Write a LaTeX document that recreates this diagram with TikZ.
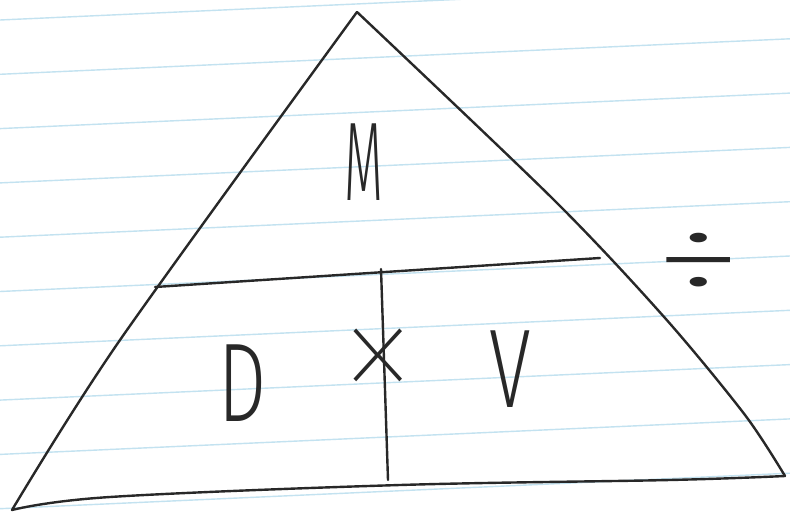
\documentclass[tikz,border=0pt]{standalone}
\usepackage{fontspec}
\IfFontExistsTF{Fira Sans Light}{\newfontfamily\hand{Fira Sans Light}}{%
  \IfFontExistsTF{Fira Sans ExtraLight}{\newfontfamily\hand{Fira Sans ExtraLight}}{\newfontfamily\hand{Fira Sans}}}
\IfFontExistsTF{Fira Sans Hair}{\newfontfamily\handthin{Fira Sans Hair}}{%
  \IfFontExistsTF{Fira Sans Thin}{\newfontfamily\handthin{Fira Sans Thin}}{\newfontfamily\handthin{Fira Sans Light}}}
\definecolor{paper}{RGB}{195,226,240}
\definecolor{pencil}{RGB}{40,40,40}
\tikzset{
  ruled/.style={draw=paper, line width=1.4pt},
  stroke/.style={draw=pencil, line width=2.4pt, line cap=round, line join=round},
  letter/.style={inner sep=0pt, text=pencil, font=\hand\fontsize{112}{112}\selectfont},
  sign/.style={inner sep=0pt, text=pencil, font=\handthin\fontsize{112}{112}\selectfont},
}
\begin{document}
\begin{tikzpicture}[x=1pt,y=-1pt]
\useasboundingbox (0,0) rectangle (790,516);
\fill[white] (0,0) rectangle (790,516);
% ruled paper
\foreach \k in {0,...,9}
  \draw[ruled] (0,{20+54.3*\k}) -- (790,{20+54.3*\k-35.5});
% triangle corners and bends
\coordinate (apex) at (357,12);
\coordinate (bl) at (12,510);
\coordinate (br) at (785,476);
\coordinate (l1) at (120,340);
\coordinate (r1) at (554,200);
\coordinate (r2) at (665,318);
\coordinate (r3) at (745,415);
\coordinate (b1) at (110,497);
\coordinate (b2) at (400,485);
\coordinate (b3) at (670,480);
\coordinate (ml) at (155,287);
\coordinate (mr) at (600,258);
\coordinate (vt) at (381,269);
\coordinate (vb) at (388,480);
\draw[stroke] plot[smooth, tension=0.5] coordinates {(bl) (l1) (apex)};
\draw[stroke] plot[smooth, tension=0.5] coordinates {(apex) (r1) (r2) (r3) (br)};
\draw[stroke] plot[smooth, tension=0.6] coordinates {(bl) (b1) (b2) (b3) (br)};
\draw[stroke] (ml) -- (mr);
\draw[stroke] (vt) -- (vb);
% letters
\node[letter, xscale=0.45] (M) at (364,162) {M};
\node[letter, xscale=0.68] (D) at (243,383) {D};
\node[letter, xscale=0.68] (V) at (510,369) {V};
\node[sign, xscale=1.5, yscale=1.6] (times) at (378,370) {×};
\node[letter, xscale=1.6, yscale=0.9] (div) at (699,263) {÷};
\end{tikzpicture}
\end{document}
